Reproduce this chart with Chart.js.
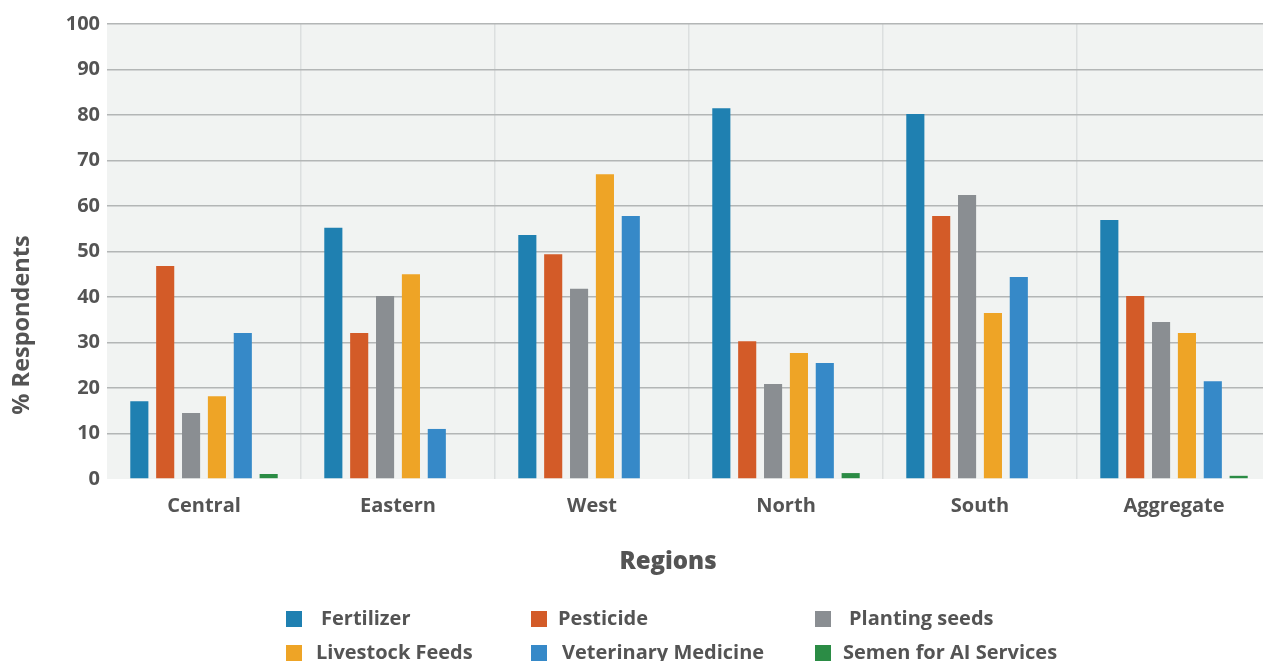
<!DOCTYPE html>
<html>
<head>
<meta charset="utf-8">
<title>% Respondents by Region</title>
<script src="https://cdn.jsdelivr.net/npm/chart.js@4/dist/chart.umd.min.js"></script>
<style>
  html, body { margin: 0; padding: 0; background: #ffffff; overflow: hidden; }
  /* the plotting area runs slightly past the right edge of the page */
  #wrap { width: 1271px; height: 661px; position: relative; }
</style>
</head>
<body>
<div id="wrap"><canvas id="chart"></canvas></div>
<script>
// Categories and series values (% of respondents)
const regions = ['Central', 'Eastern', 'West', 'North', 'South', 'Aggregate'];
const fertilizer         = [17.1, 55.2, 53.6, 81.5, 80.2, 56.9];
const pesticide          = [46.8, 32.1, 49.4, 30.3, 57.8, 40.2];
const plantingSeeds      = [14.5, 40.2, 41.8, 20.9, 62.4, 34.5];
const livestockFeeds     = [18.2, 45.0, 67.0, 27.7, 36.5, 32.1];
const veterinaryMedicine = [32.1, 11.0, 57.8, 25.5, 44.4, 21.5];
const semenForAI         = [1.1, 0, 0, 1.3, 0, 0.7];
const yTickValues = [0, 10, 20, 30, 40, 50, 60, 70, 80, 90, 100];
const seriesNames = ['Fertilizer', 'Pesticide', 'Planting seeds', 'Livestock Feeds', 'Veterinary Medicine', 'Semen for AI Services'];

const FONT = "'Open Sans', 'DejaVu Sans', sans-serif";
const TEXT = '#545454';

const series = [fertilizer, pesticide, plantingSeeds, livestockFeeds, veterinaryMedicine, semenForAI];
const colors = ['#1f80b1', '#d35b28', '#8a8e92', '#eea426', '#3689c8', '#2b8c45'];

// Shaded plotting area
const plotBackground = {
  id: 'plotBackground',
  beforeDraw(chart) {
    const { ctx, chartArea: a } = chart;
    ctx.save();
    ctx.fillStyle = '#f1f3f2';
    ctx.fillRect(a.left, a.top, a.right - a.left, a.bottom - a.top);
    ctx.restore();
  }
};

// Axis titles
const axisTitles = {
  id: 'axisTitles',
  afterDraw(chart) {
    const { ctx } = chart;
    ctx.save();
    ctx.fillStyle = TEXT;
    ctx.textAlign = 'center';
    ctx.textBaseline = 'middle';
    ctx.font = `800 24px ${FONT}`;
    ctx.fillText('Regions', 668, 562);
    ctx.translate(22, 325);
    ctx.rotate(-Math.PI / 2);
    ctx.font = `700 23.5px ${FONT}`;
    ctx.fillText('% Respondents', 0, 0);
    ctx.restore();
  }
};

// Three-column legend under the axis title
const gridLegend = {
  id: 'gridLegend',
  afterDraw(chart) {
    const { ctx } = chart;
    const boxX = [286, 531, 815];
    const rowY = [619, 653];
    const textX = [321, 558, 849, 316, 562, 843];
    ctx.save();
    ctx.font = `700 20px ${FONT}`;
    ctx.textBaseline = 'middle';
    ctx.textAlign = 'left';
    chart.data.datasets.forEach((ds, i) => {
      const col = i % 3, row = Math.floor(i / 3);
      ctx.fillStyle = ds.backgroundColor;
      ctx.fillRect(boxX[col], rowY[row] - 8, 16, 16);
      ctx.fillStyle = TEXT;
      ctx.fillText(ds.label, textX[i], rowY[row]);
    });
    ctx.restore();
  }
};

new Chart(document.getElementById('chart'), {
  type: 'bar',
  data: {
    labels: regions,
    datasets: series.map((values, i) => ({
      label: seriesNames[i],
      data: values,
      backgroundColor: colors[i],
      borderWidth: 0,
      categoryPercentage: 0.8,
      barPercentage: 0.7
    }))
  },
  options: {
    responsive: true,
    maintainAspectRatio: false,
    animation: false,
    layout: { padding: { top: 24, left: 0, right: 0, bottom: 82 } },
    plugins: {
      legend: { display: false },
      tooltip: { enabled: false }
    },
    scales: {
      x: {
        border: { display: false },
        grid: {
          offset: true,
          drawTicks: false,
          lineWidth: 1.5,
          color: (c) => (c.index === 0 ? 'rgba(0,0,0,0)' : '#dcdfdf')
        },
        ticks: {
          padding: 15,
          color: TEXT,
          font: { family: FONT, size: 20, weight: '700' }
        },
        afterFit(scale) { scale.height = 100; }
      },
      y: {
        min: 0,
        max: 100,
        border: { display: false },
        grid: {
          drawTicks: false,
          lineWidth: 1.6,
          color: (c) => (c.tick && c.tick.value === 0 ? 'rgba(0,0,0,0)' : '#b3b6b6')
        },
        afterBuildTicks(scale) { scale.ticks = yTickValues.map(v => ({ value: v })); },
        ticks: {
          padding: 7,
          color: TEXT,
          font: { family: FONT, size: 20, weight: '700' }
        },
        afterFit(scale) { scale.width = 107; }
      }
    }
  },
  plugins: [plotBackground, axisTitles, gridLegend]
});
</script>
</body>
</html>
